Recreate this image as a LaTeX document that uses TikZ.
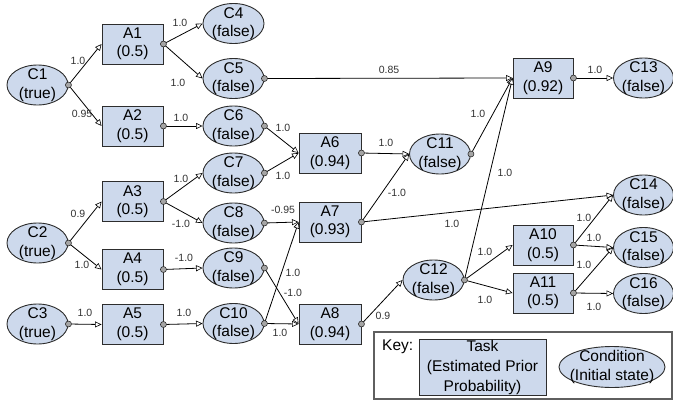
\documentclass[tikz,border=0pt]{standalone}
\usepackage{fontspec}
\setmainfont{Liberation Sans}
\usetikzlibrary{shapes.geometric,arrows.meta}
\definecolor{nodefill}{RGB}{205,217,236}
\definecolor{nodeline}{RGB}{45,45,45}
\definecolor{lblc}{RGB}{50,50,50}
\definecolor{dotfill}{RGB}{165,165,165}
\definecolor{keyline}{RGB}{95,95,95}
\newcommand\ndfont{\fontsize{15.5}{18.5}\selectfont}
\newcommand\keyfont{\fontsize{15.5}{20}\selectfont}
\newcommand\lblfont{\fontsize{10.5}{12}\selectfont}
\tikzset{
  task/.style={rectangle, draw=nodeline, fill=nodefill, line width=0.9pt,
    minimum width=61pt, minimum height=40pt, inner sep=0pt, align=center, font=\ndfont},
  cond/.style={ellipse, draw=nodeline, fill=nodefill, line width=0.9pt,
    minimum width=61pt, minimum height=40pt, inner sep=0pt},
  ctext/.style={align=center, font=\ndfont, inner sep=0pt},
  conn/.style={line width=0.8pt, draw=black,
    -{Triangle[length=6.5pt,width=6pt,fill=white,line width=0.6pt]}},
  lbl/.style={font=\lblfont, text=lblc, inner sep=0pt},
  srcdot/.style={circle, draw=nodeline, fill=dotfill, line width=0.6pt,
    minimum size=6pt, inner sep=0pt},
  keybox/.style={rectangle, draw=keyline, line width=1.3pt, fill=white,
    minimum width=298pt, minimum height=67pt, inner sep=0pt}
}
\begin{document}
\begin{tikzpicture}[x=1pt,y=-1pt]
\useasboundingbox (0,0) rectangle (673,402);
% condition nodes
\node[cond, label={[ctext]center:{C1\\(true)}}] (C1) at (37.5,85) {};
\node[cond, label={[ctext]center:{C2\\(true)}}] (C2) at (37.5,243) {};
\node[cond, label={[ctext]center:{C3\\(true)}}] (C3) at (37.5,324) {};
\node[cond, label={[ctext]center:{C4\\(false)}}] (C4) at (233.5,23.5) {};
\node[cond, label={[ctext]center:{C5\\(false)}}] (C5) at (233.5,78.5) {};
\node[cond, label={[ctext]center:{C6\\(false)}}] (C6) at (233.5,126) {};
\node[cond, label={[ctext]center:{C7\\(false)}}] (C7) at (233.5,173) {};
\node[cond, label={[ctext]center:{C8\\(false)}}] (C8) at (233.5,223) {};
\node[cond, label={[ctext]center:{C9\\(false)}}] (C9) at (233.5,268) {};
\node[cond, label={[ctext]center:{C10\\(false)}}] (C10) at (233.5,323.5) {};
\node[cond, label={[ctext]center:{C11\\(false)}}] (C11) at (440,154) {};
\node[cond, label={[ctext]center:{C12\\(false)}}] (C12) at (433.5,280) {};
\node[cond, minimum width=60pt, label={[ctext]center:{C13\\(false)}}] (C13) at (643.5,78) {};
\node[cond, minimum width=60pt, label={[ctext]center:{C14\\(false)}}] (C14) at (643.5,195) {};
\node[cond, minimum width=60pt, label={[ctext]center:{C15\\(false)}}] (C15) at (643.5,247.5) {};
\node[cond, minimum width=60pt, label={[ctext]center:{C16\\(false)}}] (C16) at (643.5,293.5) {};
% task nodes
\node[task] (A1) at (132.5,44) {A1\\(0.5)};
\node[task] (A2) at (132.5,126) {A2\\(0.5)};
\node[task] (A3) at (132.5,201.5) {A3\\(0.5)};
\node[task] (A4) at (132.5,269.5) {A4\\(0.5)};
\node[task] (A5) at (132.5,324.5) {A5\\(0.5)};
\node[task, minimum width=62pt] (A6) at (330,153) {A6\\(0.94)};
\node[task, minimum width=62pt] (A7) at (330,222) {A7\\(0.93)};
\node[task, minimum width=62pt] (A8) at (330,324) {A8\\(0.94)};
\node[task, minimum width=60pt] (A9) at (543,78) {A9\\(0.92)};
\node[task, minimum width=60pt] (A10) at (543,245) {A10\\(0.5)};
\node[task, minimum width=60pt] (A11) at (543,293) {A11\\(0.5)};
% connectors
\draw[conn] (C1.east) -- (A1.west) node[lbl] (l1) at (78,61) {1.0};
\draw[conn] (C1.east) -- (A2.west) node[lbl] (l2) at (82,114) {0.95};
\draw[conn] (A1.east) -- (C4.west) node[lbl] (l3) at (180,23) {1.0};
\draw[conn] (A1.east) -- (C5.west) node[lbl] (l4) at (178,83) {1.0};
\draw[conn] (A2.east) -- (C6.west) node[lbl] (l5) at (181,118) {1.0};
\draw[conn] (C5.east) -- (A9.west) node[lbl] (l6) at (389,70) {0.85};
\draw[conn] (C6.east) -- (A6.west) node[lbl] (l7) at (283,128) {1.0};
\draw[conn] (C7.east) -- (A6.west) node[lbl] (l8) at (283,176) {1.0};
\draw[conn] (A3.east) -- (C7.west) node[lbl] (l9) at (181,179) {1.0};
\draw[conn] (A3.east) -- (C8.west) node[lbl] (l10) at (181,224) {-1.0};
\draw[conn] (C2.east) -- (A3.west) node[lbl] (l11) at (78,214) {0.9};
\draw[conn] (C2.east) -- (A4.west) node[lbl] (l12) at (82,265) {1.0};
\draw[conn] (A4.east) -- (C9.west) node[lbl] (l13) at (184,258) {-1.0};
\draw[conn] (C8.east) -- (A7.west) node[lbl] (l14) at (283,210) {-0.95};
\draw[conn] (C10.east) -- (A7.west) node[lbl] (l15) at (293,273) {1.0};
\draw[conn] (C9.east) -- (A8.west) node[lbl] (l16) at (293,293) {-1.0};
\draw[conn] (C10.east) -- (A8.west) node[lbl] (l17) at (280,333) {1.0};
\draw[conn] (C3.east) -- (A5.west) node[lbl] (l18) at (85,313) {1.0};
\draw[conn] (A5.east) -- (C10.west) node[lbl] (l19) at (184,313) {1.0};
\draw[conn] (A6.east) -- (C11.west) node[lbl] (l20) at (386,143) {1.0};
\draw[conn] (A7.east) -- (C11.west) node[lbl] (l21) at (397,193) {-1.0};
\draw[conn] (A7.east) -- (C14.west) node[lbl] (l22) at (452,224) {1.0};
\draw[conn] (A8.east) -- (C12.west) node[lbl] (l23) at (383,316) {0.9};
\draw[conn] (C11.east) -- (A9.west) node[lbl] (l24) at (478,114) {1.0};
\draw[conn] (C12.east) -- (A9.west) node[lbl] (l25) at (505,173) {1.0};
\draw[conn] (C12.east) -- (A10.west) node[lbl] (l26) at (485,252) {1.0};
\draw[conn] (C12.east) -- (A11.west) node[lbl] (l27) at (485,300) {1.0};
\draw[conn] (A9.east) -- (C13.west) node[lbl] (l28) at (595,70) {1.0};
\draw[conn] (A10.east) -- (C14.west) node[lbl] (l29) at (584,218) {1.0};
\draw[conn] (A10.east) -- (C15.west) node[lbl] (l30) at (594,238) {1.0};
\draw[conn] (A11.east) -- (C15.west) node[lbl] (l31) at (584,265) {1.0};
\draw[conn] (A11.east) -- (C16.west) node[lbl] (l32) at (594,307) {1.0};
% source dots
\foreach \s in {C1,C2,C3,C5,C6,C7,C8,C9,C10,C11,C12,A1,A2,A3,A4,A5,A6,A7,A8,A9,A10,A11}
  \node[srcdot] (d\s) at (\s.east) {};
% key
\node[keybox] (key) at (523,365.5) {};
\node[ctext, font=\keyfont, anchor=base west] (keylbl) at (382,350) {Key:};
\node[task, font=\keyfont, minimum width=127pt, minimum height=56pt] (ktask) at (482.5,367) {Task\\(Estimated Prior\\Probability)};
\node[cond, minimum width=106pt, minimum height=41pt,
  label={[ctext]center:{Condition\\(Initial state)}}] (kcond) at (612,367) {};
\end{tikzpicture}
\end{document}
